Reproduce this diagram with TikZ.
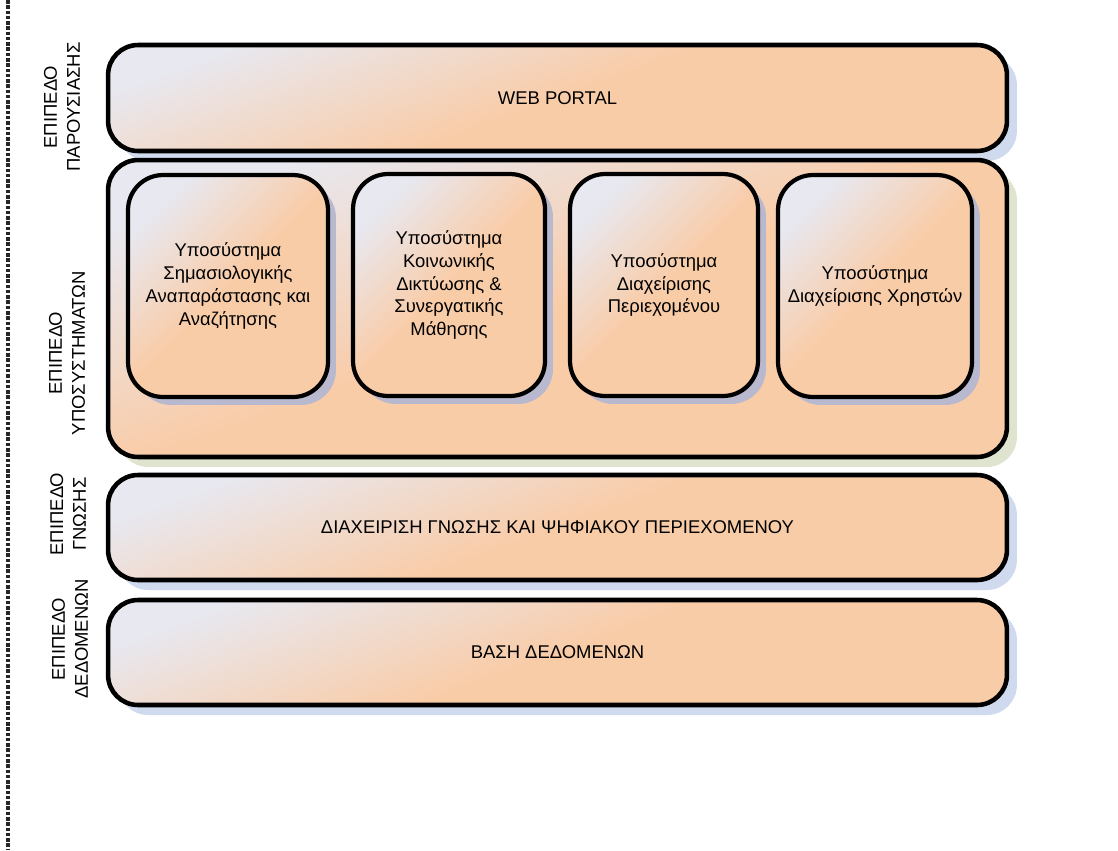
\documentclass[tikz,border=0pt]{standalone}
\usepackage{fontspec}
\setmainfont{Liberation Sans}
\usepackage{tikz,xcolor}
\usetikzlibrary{shadows}

\definecolor{peach}{HTML}{F9CCA8}
\definecolor{paleblue}{HTML}{E8E8F0}
\definecolor{shadeblue}{HTML}{D0DAEE}
\definecolor{shadegreen}{HTML}{DFE4CF}
\definecolor{shadegray}{HTML}{B8B8CE}

\begin{document}
\begin{tikzpicture}[x=0.02cm,y=-0.02cm,
	every node/.style={font=\fontsize{10.5}{13}\selectfont,inner sep=0pt},
	layer/.style={draw=black,line width=2.6pt,rounded corners=0.6cm,minimum width=17.98cm,
		top color=paleblue,bottom color=peach,middle color=peach,shading angle=20,
		drop shadow={shadow xshift=0.2cm,shadow yshift=-0.2cm,fill=#1,opacity=1}},
	layer/.default=shadeblue,
	subsys/.style={draw=black,line width=2.4pt,rounded corners=0.7cm,minimum height=4.44cm,align=center,
		top color=paleblue,bottom color=peach,middle color=peach,shading angle=45,
		drop shadow={shadow xshift=0.16cm,shadow yshift=-0.16cm,fill=shadegray,opacity=1}},
	level/.style={rotate=90,align=center}]
%	\draw[help lines, color=black!30, step=50, ultra thin](0,0)grid(1118,850);
	\useasboundingbox (0,0) rectangle (1118,850);
	
	\coordinate (railTop) at (8,0);
	\coordinate (railBot) at (8,850);
	\draw [densely dotted,line width=2pt,black!85](railTop)--(railBot);
	
	\node (web) at (557.5,98)[layer,minimum height=2.12cm]{WEB PORTAL};
	\node (subsystems) at (557.5,308.5)[layer=shadegreen,minimum height=5.94cm]{};
	\node (knowledge) at (557.5,527.5)[layer,minimum height=2.1cm]{ΔΙΑΧΕΙΡΙΣΗ ΓΝΩΣΗΣ ΚΑΙ ΨΗΦΙΑΚΟΥ ΠΕΡΙΕΧΟΜΕΝΟΥ};
	\node (database) at (557.5,652.5)[layer,minimum height=2.1cm]{ΒΑΣΗ ΔΕΔΟΜΕΝΩΝ};
	
	\node (semantic) at (228,286)[subsys,minimum width=4cm]{Υποσύστημα\\Σημασιολογικής\\Αναπαράστασης και\\Αναζήτησης};
	\node (social) at (449,285)[subsys,minimum width=3.84cm]{Υποσύστημα\\Κοινωνικής\\Δικτύωσης \&\\Συνεργατικής\\Μάθησης};
	\node (content) at (664,285)[subsys,minimum width=3.76cm]{Υποσύστημα\\Διαχείρισης\\Περιεχομένου};
	\node (users) at (875,286)[subsys,minimum width=3.88cm]{Υποσύστημα\\Διαχείρισης Χρηστών};
	
	\node (lblWeb) at (62,107)[level]{ΕΠΙΠΕΔΟ\\ΠΑΡΟΥΣΙΑΣΗΣ};
	\node (lblSub) at (67,353)[level]{ΕΠΙΠΕΔΟ\\ΥΠΟΣΥΣΤΗΜΑΤΩΝ};
	\node (lblKnow) at (68,514)[level]{ΕΠΙΠΕΔΟ\\ΓΝΩΣΗΣ};
	\node (lblData) at (70,639)[level]{ΕΠΙΠΕΔΟ\\ΔΕΔΟΜΕΝΩΝ};
	
\end{tikzpicture}
\end{document}
